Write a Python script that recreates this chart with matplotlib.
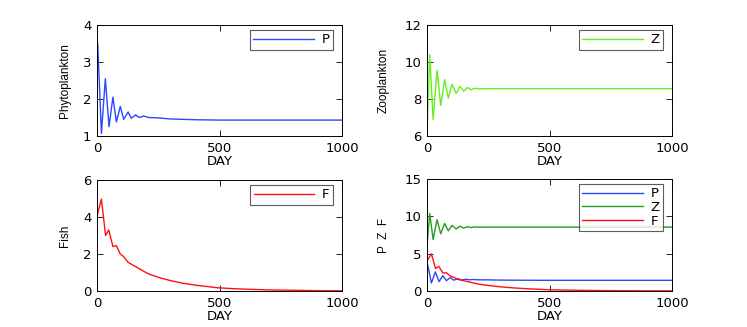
import numpy as np
import matplotlib
matplotlib.use('Agg')
import matplotlib.pyplot as plt

plt.rcParams['font.family'] = ['DejaVu Sans']
plt.rcParams['font.size'] = 9.5

# Values (peaks / troughs of the damped oscillations)
p_day = [0, 3, 18, 34, 49, 65, 79, 95, 109, 127, 140, 158, 172, 191, 210, 250, 300, 400, 500, 700, 1000]
p_val = [3.0, 3.5, 1.07, 2.55, 1.25, 2.05, 1.38, 1.8, 1.45, 1.65, 1.48, 1.57, 1.5, 1.54, 1.5, 1.49, 1.46, 1.44, 1.43, 1.43, 1.43]

z_day = [0, 11, 25, 41, 56, 72, 87, 102, 119, 135, 150, 165, 180, 195, 210, 250, 1000]
z_val = [6.0, 10.4, 6.9, 9.55, 7.65, 9.05, 8.05, 8.8, 8.3, 8.68, 8.42, 8.62, 8.5, 8.58, 8.55, 8.56, 8.56]

f_day = [0, 5, 18, 35, 48, 65, 79, 95, 109, 127, 140, 160, 200, 215, 260, 300, 351, 400, 488, 550, 624, 700, 800, 896, 1000]
f_val = [4.0, 4.3, 4.97, 3.0, 3.3, 2.4, 2.45, 2.0, 1.85, 1.55, 1.45, 1.3, 1.0, 0.9, 0.7, 0.56, 0.42, 0.32, 0.18, 0.13, 0.09, 0.06, 0.04, 0.02, 0.01]

x_ticks = [0, 500, 1000]

c_p = '#2a48ff'
c_z_top = '#66ee22'
c_z_bot = '#22a022'
c_f = '#ff1010'

fig = plt.figure(figsize=(7.47, 3.27), dpi=100)
W, H = 747, 327


def make_ax(x0, y0, x1, y1):
    return fig.add_axes([x0 / W, 1 - y1 / H, (x1 - x0) / W, (y1 - y0) / H])


def style(ax, ylim, yticks, ylabel, ylx):
    ax.set_xlim(0, 1000)
    ax.set_ylim(*ylim)
    ax.set_xticks(x_ticks)
    ax.set_yticks(yticks)
    ax.tick_params(direction='in', top=True, right=True, length=4, width=0.6, pad=4)
    for s in ax.spines.values():
        s.set_linewidth(0.7)
    ax.set_xlabel('DAY', labelpad=0)
    ax.set_ylabel(ylabel, family='Liberation Sans', fontsize=8.5)
    ax.yaxis.set_label_coords(ylx, 0.5)


def legend(ax):
    leg = ax.legend(loc='upper right', bbox_to_anchor=(0.963, 0.955), borderaxespad=0,
                    handlelength=4.6, handletextpad=0.6, borderpad=0.25, labelspacing=0.05,
                    fancybox=False, frameon=True)
    leg.get_frame().set_edgecolor('#333333')
    leg.get_frame().set_linewidth(0.8)


ax1 = make_ax(97, 25, 342, 136)
ax1.plot(p_day, p_val, color=c_p, lw=1, label='P')
style(ax1, (1, 4), [1, 2, 3, 4], 'Phytoplankton', -0.106)
legend(ax1)

ax2 = make_ax(427, 25, 672, 136)
ax2.plot(z_day, z_val, color=c_z_top, lw=1, label='Z')
style(ax2, (6, 12), [6, 8, 10, 12], 'Zooplankton', -0.151)
legend(ax2)

ax3 = make_ax(97, 180, 342, 291)
ax3.plot(f_day, f_val, color=c_f, lw=1, label='F')
style(ax3, (0, 6), [0, 2, 4, 6], 'Fish', -0.106)
legend(ax3)

ax4 = make_ax(427, 179, 672, 291)
ax4.plot(p_day, p_val, color=c_p, lw=1, label='P')
ax4.plot(z_day, z_val, color=c_z_bot, lw=1, label='Z')
ax4.plot(f_day, f_val, color=c_f, lw=1, label='F')
style(ax4, (0, 15), [0, 5, 10, 15], 'P  Z  F', -0.151)
legend(ax4)

fig.savefig('out.png', dpi=100)
